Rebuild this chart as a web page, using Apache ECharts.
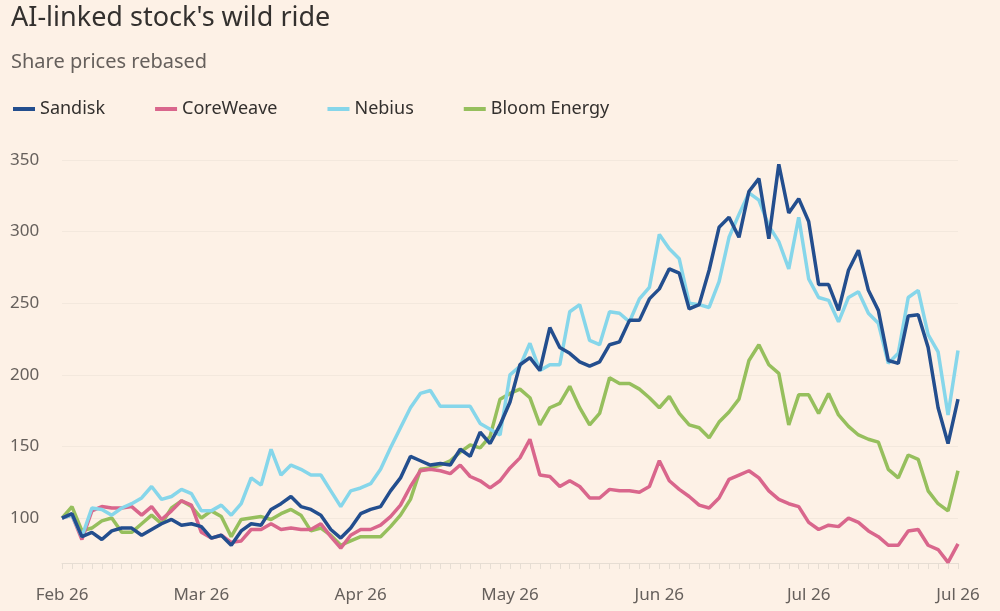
<!DOCTYPE html>
<html>
<head>
<meta charset="utf-8">
<script src="https://cdn.jsdelivr.net/npm/echarts@6/dist/echarts.min.js"></script>
<style>
  html, body { margin: 0; padding: 0; background: #fdf1e6; }
  #chart { width: 1000px; height: 611px; }
</style>
</head>
<body>
<div id="chart"></div>
<script>
// one sample every ~2 days, labels only on month marks
const tickLabels = { 0: 'Feb 26', 14: 'Mar 26', 30: 'Apr 26', 45: 'May 26', 60: 'Jun 26', 75: 'Jul 26', 90: 'Jul 26' };
const categories = Array.from({ length: 91 }, (_, i) => tickLabels[i] || '');
const yTicks = [100, 150, 200, 250, 300, 350];

const sandisk = [
  100, 103, 87, 90, 85, 91, 93, 93, 88, 92,
  96, 99, 95, 96, 94, 86, 88, 81, 91, 96,
  95, 106, 110, 115, 108, 106, 102, 92,
  86, 93, 103, 106, 108, 119, 128, 143, 140, 137, 138, 137,
  148, 143, 160, 152, 165, 181, 207, 212, 203, 233,
  219, 215, 209, 206, 209, 221, 223, 238, 238, 253,
  260, 274, 271, 246, 249, 273, 303, 310, 296, 328,
  337, 295, 347, 313, 323, 307, 263, 263, 245, 273,
  287, 259, 245, 210, 208, 241, 242, 219, 177, 152, 183
];
const coreweave = [
  100, 102, 85, 105, 108, 107, 107, 108, 102, 108,
  99, 105, 112, 109, 90, 86, 88, 83, 84, 92,
  92, 96, 92, 93, 92, 92, 96, 87,
  79, 88, 92, 92, 95, 101, 109, 122, 133, 134, 133, 131,
  137, 129, 126, 121, 126, 135, 142, 155, 130, 129,
  122, 126, 122, 114, 114, 120, 119, 119, 118, 122,
  140, 126, 120, 115, 109, 107, 114, 127, 130, 133,
  128, 119, 113, 110, 108, 97, 92, 95, 94, 100,
  97, 91, 87, 81, 81, 91, 92, 81, 78, 69, 82
];
const nebius = [
  100, 102, 87, 107, 106, 102, 107, 110, 114, 122,
  113, 115, 120, 117, 105, 105, 109, 102, 110, 128,
  123, 148, 130, 137, 134, 130, 130, 119,
  108, 119, 121, 124, 134, 149, 163, 177, 187, 189, 178, 178,
  178, 178, 166, 162, 158, 200, 206, 222, 203, 207,
  207, 244, 249, 224, 221, 244, 243, 237, 253, 261,
  298, 288, 281, 250, 249, 247, 265, 296, 312, 327,
  322, 304, 293, 274, 310, 267, 254, 252, 237, 254,
  258, 243, 236, 208, 215, 254, 259, 228, 216, 172, 217
];
const bloom = [
  100, 108, 91, 93, 98, 100, 90, 90, 96, 102,
  96, 107, 112, 108, 100, 105, 101, 87, 99, 100,
  101, 99, 103, 106, 102, 91, 93, 88,
  81, 84, 87, 87, 87, 94, 102, 113, 134, 135, 137, 140,
  146, 151, 149, 157, 183, 187, 190, 184, 165, 177,
  180, 192, 177, 165, 173, 198, 194, 194, 190, 184,
  177, 185, 173, 165, 163, 156, 167, 174, 183, 210,
  221, 207, 201, 165, 186, 186, 173, 187, 172, 164,
  158, 155, 153, 134, 128, 144, 141, 119, 110, 105, 133
];

const font = 'Noto Sans';
function line(name, data, color) {
  return { name, type: 'line', data, symbol: 'none', lineStyle: { color, width: 3.5 }, itemStyle: { color } };
}

let myChart = echarts.init(document.getElementById('chart'), null, { renderer: 'canvas' });
myChart.setOption({
  backgroundColor: '#fdf1e6',
  animation: false,
  textStyle: { fontFamily: font },
  title: {
    text: "AI-linked stock's wild ride",
    subtext: 'Share prices rebased',
    left: 6, top: 0, itemGap: 20,
    textStyle: { fontSize: 27, fontWeight: 'normal', color: '#33302e', fontFamily: font },
    subtextStyle: { fontSize: 20, color: '#66605c', fontFamily: font }
  },
  legend: {
    data: ['Sandisk', 'CoreWeave', 'Nebius', 'Bloom Energy'],
    left: 8, top: 95, icon: 'rect', itemWidth: 22, itemHeight: 4, itemGap: 50,
    textStyle: { fontSize: 18, color: '#33302e', fontFamily: font }
  },
  grid: { left: 62, right: 42, top: 152.8, bottom: 48, containLabel: false },
  xAxis: {
    type: 'category', data: categories, boundaryGap: false,
    axisLine: { lineStyle: { color: '#e6ddd3' } },
    axisTick: { interval: 0, length: 6, lineStyle: { color: '#e6ddd3' } },
    axisLabel: { interval: 0, fontSize: 17, color: '#66605c', margin: 24 }
  },
  yAxis: {
    type: 'value', min: 68.6, max: 355,
    axisLine: { show: false }, axisTick: { show: false, customValues: yTicks },
    axisLabel: { customValues: yTicks, align: 'left', margin: 52, fontSize: 17, color: '#66605c' },
    splitLine: { lineStyle: { color: '#f3e8dd' } }
  },
  series: [
    line('Bloom Energy', bloom, '#96bf5d'),
    line('CoreWeave', coreweave, '#d9668c'),
    line('Nebius', nebius, '#86d6ea'),
    line('Sandisk', sandisk, '#234e8e')
  ]
});
</script>
</body>
</html>
